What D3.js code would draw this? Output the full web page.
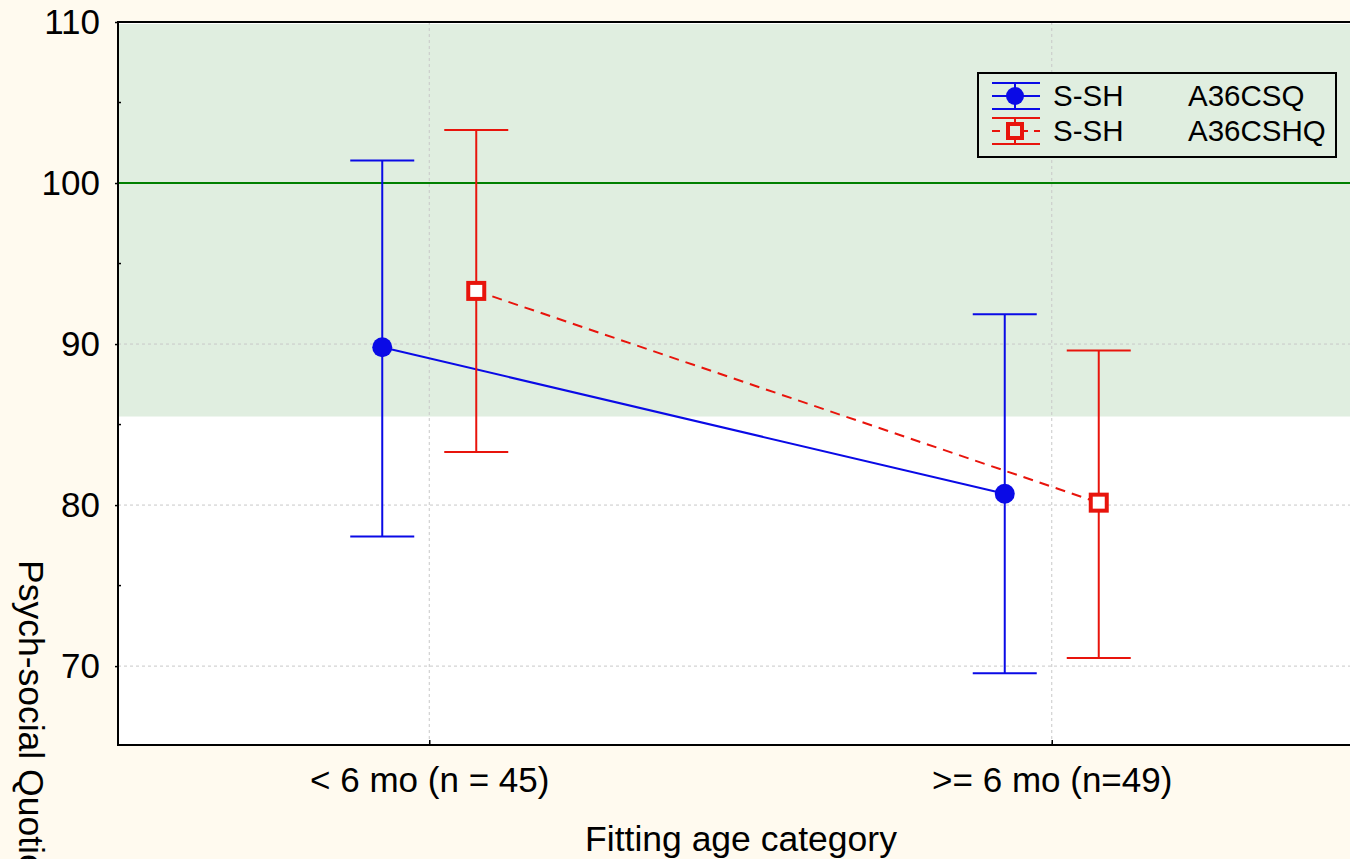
<!DOCTYPE html>
<html><head><meta charset="utf-8">
<script src="https://cdn.jsdelivr.net/npm/d3@7"></script>
<style>body{margin:0;background:#fffaef;}svg{display:block;font-family:"Liberation Sans",Arial,sans-serif;}</style>
</head><body>
<svg id="c" width="1350" height="859"></svg>
<script>
const categories = ["< 6 mo (n = 45)", ">= 6 mo (n=49)"];
const seriesNames = ["S-SH", "S-SH"];
const seriesVars = ["A36CSQ", "A36CSHQ"];
const meanCSQ = [89.8, 80.7];
const upperCSQ = [101.4, 91.85];
const lowerCSQ = [78.05, 69.55];
const meanCSHQ = [93.3, 80.15];
const upperCSHQ = [103.3, 89.6];
const lowerCSHQ = [83.3, 70.5];
const yTicks = [70, 80, 90, 100, 110];
const yMinorTicks = [75, 85, 95, 105];
const refLine = 100;
const bandRange = [85.5, 110];

const svg = d3.select("#c");
const L = 118, T = 22, R = 1363, B = 745;
const y = d3.scaleLinear().domain([65.1, 110]).range([B, T]);
const x = d3.scalePoint().domain(categories).range([L, R]).padding(0.5);
const off = 47;

svg.append("rect").attr("x", 0).attr("y", 0).attr("width", 1350).attr("height", 859).attr("fill", "#fffaef");
svg.append("rect").attr("x", L).attr("y", T).attr("width", R - L).attr("height", B - T).attr("fill", "#ffffff");
svg.append("rect").attr("x", L).attr("y", y(bandRange[1]) + 2).attr("width", R - L)
  .attr("height", y(bandRange[0]) - y(bandRange[1]) - 2).attr("fill", "#e0eee0");

// grid
const g = svg.append("g");
yTicks.forEach(v => {
  g.append("line").attr("x1", L).attr("x2", R).attr("y1", y(v)).attr("y2", y(v))
    .attr("stroke", "#c8c8c8").attr("stroke-width", 1).attr("stroke-dasharray", "3,3");
});
categories.forEach(c => {
  g.append("line").attr("x1", x(c)).attr("x2", x(c)).attr("y1", T).attr("y2", B)
    .attr("stroke", "#c8c8c8").attr("stroke-width", 1).attr("stroke-dasharray", "3,3");
});
// ref line
svg.append("line").attr("x1", L).attr("x2", R).attr("y1", y(refLine)).attr("y2", y(refLine))
  .attr("stroke", "#008000").attr("stroke-width", 2);

// axes
const ya = svg.append("g").attr("transform", `translate(${L},0)`)
  .call(d3.axisLeft(y).tickValues(yTicks).tickSize(3).tickPadding(15).tickFormat(d3.format("d")));
ya.select(".domain").remove();
ya.selectAll("text").style("font-size", "35px").attr("fill", "#000").style("font-family", "Liberation Sans, Arial");
ya.selectAll("line").attr("stroke", "#000").attr("stroke-width", 1.5);
yMinorTicks.forEach(v => {
  svg.append("line").attr("x1", L).attr("x2", L + 3).attr("y1", y(v)).attr("y2", y(v)).attr("stroke", "#000").attr("stroke-width", 1.5);
});
const xa = svg.append("g").attr("transform", `translate(0,${B})`)
  .call(d3.axisBottom(x).tickSize(-5).tickPadding(22));
xa.select(".domain").remove();
xa.selectAll("text").style("font-size", "35px").attr("fill", "#000").style("font-family", "Liberation Sans, Arial").attr("dy", "0.71em");
xa.selectAll("line").attr("stroke", "#000").attr("stroke-width", 1.5);

svg.append("rect").attr("x", L).attr("y", T).attr("width", R - L).attr("height", B - T)
  .attr("fill", "none").attr("stroke", "#000").attr("stroke-width", 2);

// series
const blue = "#0a0ae6", red = "#e8140c";
function series(mean, up, lo, dx, col, dashed, marker) {
  const pts = categories.map((c, i) => [x(c) + dx, y(mean[i])]);
  svg.append("path").attr("d", d3.line()(pts)).attr("fill", "none").attr("stroke", col)
    .attr("stroke-width", 2).attr("stroke-dasharray", dashed ? "10,7" : null);
  categories.forEach((c, i) => {
    const cx = x(c) + dx;
    svg.append("line").attr("x1", cx).attr("x2", cx).attr("y1", y(up[i])).attr("y2", y(lo[i])).attr("stroke", col).attr("stroke-width", 2);
    [up[i], lo[i]].forEach(v => svg.append("line").attr("x1", cx - 32).attr("x2", cx + 32).attr("y1", y(v)).attr("y2", y(v)).attr("stroke", col).attr("stroke-width", 2));
    if (marker === "circle") svg.append("circle").attr("cx", cx).attr("cy", y(mean[i])).attr("r", 10).attr("fill", col);
    else svg.append("rect").attr("x", cx - 8).attr("y", y(mean[i]) - 8).attr("width", 16).attr("height", 16)
      .attr("fill", "#fff").attr("stroke", col).attr("stroke-width", 4);
  });
}
series(meanCSQ, upperCSQ, lowerCSQ, -off, blue, false, "circle");
series(meanCSHQ, upperCSHQ, lowerCSHQ, off, red, true, "square");

// legend
const lg = svg.append("g");
lg.append("rect").attr("x", 978).attr("y", 73).attr("width", 358).attr("height", 84)
  .attr("fill", "#e0eee0").attr("stroke", "#000").attr("stroke-width", 2);
const rows = [{y: 96, col: blue, m: "circle", dash: false}, {y: 131, col: red, m: "square", dash: true}];
rows.forEach((r, i) => {
  const cx = 1015;
  lg.append("line").attr("x1", 992).attr("x2", 1040).attr("y1", r.y - 13).attr("y2", r.y - 13).attr("stroke", r.col).attr("stroke-width", 2);
  lg.append("line").attr("x1", 992).attr("x2", 1040).attr("y1", r.y + 13).attr("y2", r.y + 13).attr("stroke", r.col).attr("stroke-width", 2);
  lg.append("line").attr("x1", 992).attr("x2", 1040).attr("y1", r.y).attr("y2", r.y).attr("stroke", r.col).attr("stroke-width", 2).attr("stroke-dasharray", r.dash ? "8,6" : null);
  lg.append("line").attr("x1", cx).attr("x2", cx).attr("y1", r.y - 13).attr("y2", r.y + 13).attr("stroke", r.col).attr("stroke-width", 2);
  if (r.m === "circle") lg.append("circle").attr("cx", cx).attr("cy", r.y).attr("r", 9).attr("fill", r.col);
  else lg.append("rect").attr("x", cx - 7).attr("y", r.y - 7).attr("width", 14).attr("height", 14).attr("fill", "#e0eee0").attr("stroke", r.col).attr("stroke-width", 4);
  lg.append("text").attr("x", 1053).attr("y", r.y + 10).style("font-size", "29.5px").text(seriesNames[i]);
  lg.append("text").attr("x", 1188).attr("y", r.y + 10).style("font-size", "29.5px").text(seriesVars[i]);
});

// axis titles
svg.append("text").attr("x", 741).attr("y", 851).attr("text-anchor", "middle").style("font-size", "35.5px").text("Fitting age category");
svg.append("text").attr("transform", "translate(19,560) rotate(90)").style("font-size", "35.5px").text("Psych-social Quotient");
</script>
</body></html>
